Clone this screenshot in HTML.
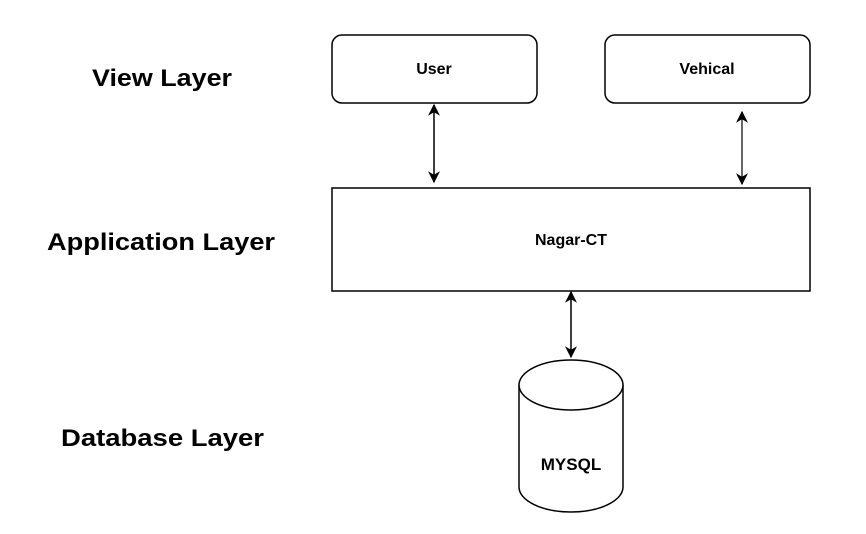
<!DOCTYPE html>
<html><head><style>
body{margin:0;background:#fff;}
svg text{font-family:"Liberation Sans",Arial,sans-serif;font-weight:bold;}
</style></head><body>
<svg width="866" height="529" viewBox="0 0 866 529" xmlns="http://www.w3.org/2000/svg">
<defs>
<marker id="a" viewBox="0 0 10 10" refX="9" refY="5" markerWidth="12" markerHeight="12" markerUnits="userSpaceOnUse" orient="auto-start-reverse"><path d="M0,0 L10,5 L0,10 L3,5 z" fill="#000"/></marker>
</defs>
<text x="92" y="86" font-size="24" textLength="140" lengthAdjust="spacingAndGlyphs">View Layer</text>
<text x="47" y="250" font-size="24" textLength="228" lengthAdjust="spacingAndGlyphs">Application Layer</text>
<text x="61" y="446" font-size="24" textLength="203" lengthAdjust="spacingAndGlyphs">Database Layer</text>
<rect x="332" y="35" width="205" height="68" rx="10" fill="#fff" stroke="#000" stroke-width="1.5"/>
<text x="434" y="74" font-size="16" text-anchor="middle">User</text>
<rect x="605" y="35" width="205" height="68" rx="10" fill="#fff" stroke="#000" stroke-width="1.5"/>
<text x="707" y="74" font-size="16" text-anchor="middle">Vehical</text>
<rect x="332" y="188" width="478" height="103" fill="#fff" stroke="#000" stroke-width="1.5"/>
<text x="571" y="245" font-size="16" text-anchor="middle">Nagar-CT</text>
<line x1="434" y1="105" x2="434" y2="182" stroke="#000" stroke-width="1.5" marker-start="url(#a)" marker-end="url(#a)"/>
<line x1="742" y1="112" x2="742" y2="184" stroke="#333" stroke-width="1.5" marker-start="url(#a)" marker-end="url(#a)"/>
<line x1="571" y1="292" x2="571" y2="357" stroke="#000" stroke-width="1.5" marker-start="url(#a)" marker-end="url(#a)"/>
<path d="M519,385 L519,487 A52,25 0 0 0 623,487 L623,385" fill="#fff" stroke="#000" stroke-width="1.5"/>
<ellipse cx="571" cy="385" rx="52" ry="25" fill="#fff" stroke="#000" stroke-width="1.5"/>
<text x="571" y="470" font-size="17" text-anchor="middle">MYSQL</text>
</svg>
</body></html>
